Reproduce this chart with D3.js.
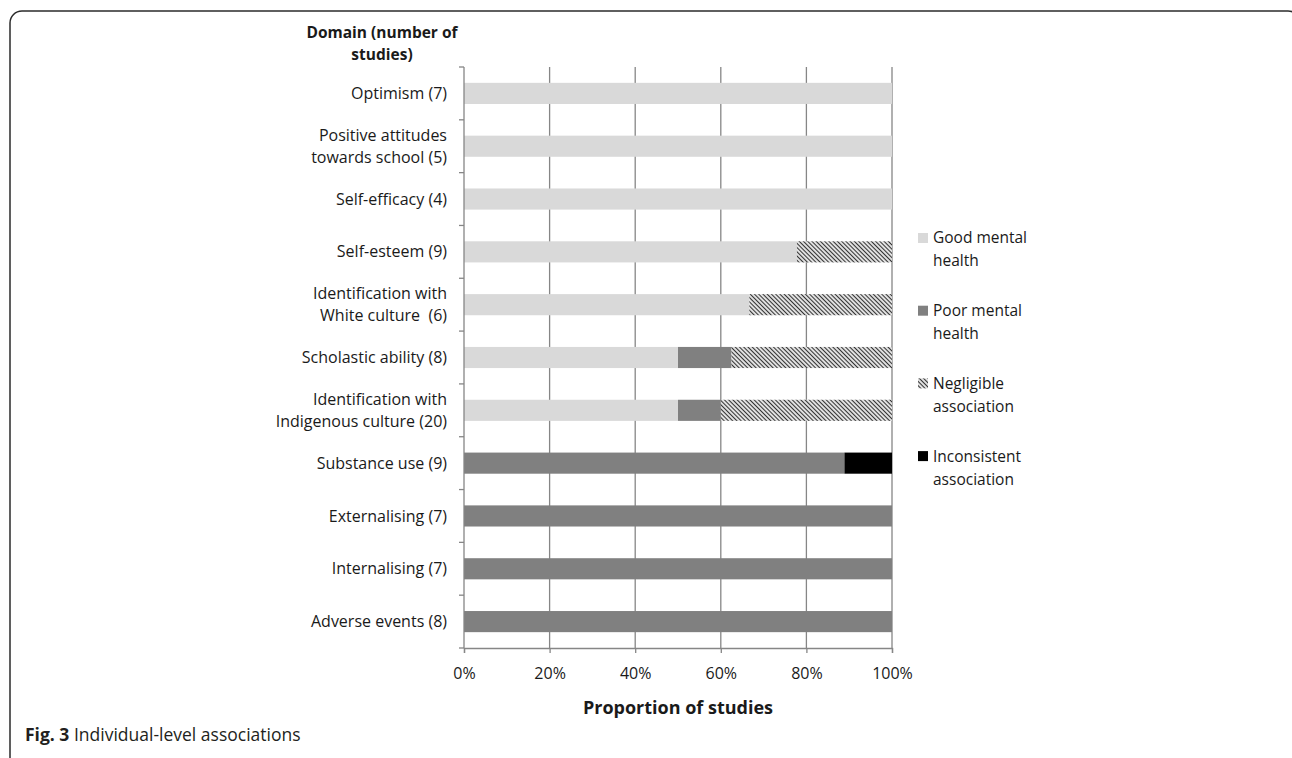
<!DOCTYPE html>
<html>
<head>
<meta charset="utf-8">
<script src="https://cdn.jsdelivr.net/npm/d3@7"></script>
<style>
  body { margin: 0; background: #fff; }
  svg { display: block; font-family: "Open Sans", sans-serif; }
</style>
</head>
<body>
<svg id="chart" width="1292" height="758"></svg>
<script>
// domain labels, "|" marks a line break
const categories = [
  'Optimism (7)',
  'Positive attitudes|towards school (5)',
  'Self-efficacy (4)',
  'Self-esteem (9)',
  'Identification with|White culture  (6)',
  'Scholastic ability (8)',
  'Identification with|Indigenous culture (20)',
  'Substance use (9)',
  'Externalising (7)',
  'Internalising (7)',
  'Adverse events (8)'
];
// number of studies per outcome
const goodHealth   = [7, 5, 4, 7, 4, 4, 10, 0, 0, 0, 0];
const poorHealth   = [0, 0, 0, 0, 0, 1, 2, 8, 7, 7, 8];
const negligible   = [0, 0, 0, 2, 2, 3, 8, 0, 0, 0, 0];
const inconsistent = [0, 0, 0, 0, 0, 0, 0, 1, 0, 0, 0];

const seriesKeys = ['good', 'poor', 'negl', 'incons'];
const legendLabels = [
  ['Good mental', 'health'],
  ['Poor mental', 'health'],
  ['Negligible', 'association'],
  ['Inconsistent', 'association']
];
const xTicks = [0, 0.2, 0.4, 0.6, 0.8, 1];

function drawChart() {
  const svg = d3.select('#chart');
  const plotLeft = 464;
  const plotRight = 892;
  const plotTop = 67;
  const plotBottom = 648;
  const gridColor = '#868686';
  const textColor = '#1a1a1a';

  const fills = {
    good: '#d9d9d9',
    poor: '#808080',
    negl: 'url(#hatch)',
    incons: '#000000'
  };

  // hatch pattern for "negligible association"
  const defs = svg.append('defs');
  const pat = defs.append('pattern')
    .attr('id', 'hatch')
    .attr('patternUnits', 'userSpaceOnUse')
    .attr('width', 3)
    .attr('height', 3)
    .attr('patternTransform', 'rotate(-45)');
  pat.append('rect').attr('width', 3).attr('height', 3).attr('fill', '#fff');
  pat.append('line')
    .attr('x1', 1.5).attr('y1', 0).attr('x2', 1.5).attr('y2', 3)
    .attr('stroke', '#333').attr('stroke-width', 1.3);

  // outer frame
  svg.append('rect')
    .attr('x', 10).attr('y', 11)
    .attr('width', 1290).attr('height', 820)
    .attr('rx', 12)
    .attr('fill', 'none')
    .attr('stroke', '#2b2b2b')
    .attr('stroke-width', 1.5);

  const table = categories.map((c, i) => ({
    cat: c,
    good: goodHealth[i],
    poor: poorHealth[i],
    negl: negligible[i],
    incons: inconsistent[i]
  }));

  const stacked = d3.stack()
    .keys(seriesKeys)
    .offset(d3.stackOffsetExpand)(table);

  const x = d3.scaleLinear().domain([0, 1]).range([plotLeft, plotRight]);
  const y = d3.scaleBand()
    .domain(categories)
    .range([plotTop, plotBottom])
    .paddingInner(0.6)
    .paddingOuter(0.3);

  // vertical gridlines
  svg.append('g')
    .selectAll('line')
    .data(xTicks.slice(1))
    .join('line')
    .attr('x1', d => x(d)).attr('x2', d => x(d))
    .attr('y1', plotTop).attr('y2', plotBottom)
    .attr('stroke', gridColor)
    .attr('stroke-width', 1.3);

  // bars
  svg.append('g')
    .selectAll('g')
    .data(stacked)
    .join('g')
    .attr('fill', d => fills[d.key])
    .selectAll('rect')
    .data(d => d)
    .join('rect')
    .attr('x', d => x(d[0]))
    .attr('width', d => Math.max(0, x(d[1]) - x(d[0])))
    .attr('y', d => y(d.data.cat))
    .attr('height', y.bandwidth());

  // left axis line + band boundary ticks
  const half = (y.step() - y.bandwidth()) / 2;
  const bounds = categories.map(c => y(c) - half).concat([y(categories[categories.length - 1]) + y.bandwidth() + half]);
  const yAxis = svg.append('g');
  yAxis.append('line')
    .attr('x1', plotLeft).attr('x2', plotLeft)
    .attr('y1', plotTop).attr('y2', plotBottom)
    .attr('stroke', gridColor).attr('stroke-width', 1.3);
  yAxis.selectAll('line.tick')
    .data(bounds)
    .join('line')
    .attr('class', 'tick')
    .attr('x1', plotLeft - 5).attr('x2', plotLeft)
    .attr('y1', d => d).attr('y2', d => d)
    .attr('stroke', gridColor).attr('stroke-width', 1.3);

  // category labels
  const labels = svg.append('g')
    .attr('font-size', 16)
    .attr('fill', textColor)
    .attr('text-anchor', 'end');
  categories.forEach(c => {
    const lines = c.split('|');
    const cy = y(c) + y.bandwidth() / 2;
    const lh = 22;
    const t = labels.append('text').attr('xml:space', 'preserve');
    lines.forEach((ln, j) => {
      t.append('tspan')
        .attr('x', 447)
        .attr('y', cy + (j - (lines.length - 1) / 2) * lh)
        .attr('dy', '0.35em')
        .text(ln);
    });
  });

  // header over labels
  svg.append('text')
    .attr('font-size', 15.5)
    .attr('font-weight', 'bold')
    .attr('fill', textColor)
    .attr('text-anchor', 'middle')
    .selectAll('tspan')
    .data(['Domain (number of', 'studies)'])
    .join('tspan')
    .attr('x', 382)
    .attr('y', (d, i) => 33 + i * 22)
    .attr('dy', '0.35em')
    .text(d => d);

  // bottom axis
  const xAxis = svg.append('g')
    .attr('transform', `translate(0,${plotBottom})`)
    .call(d3.axisBottom(x).tickValues(xTicks).tickFormat(d3.format('.0%')).tickSize(5).tickPadding(15));
  xAxis.select('.domain').attr('stroke', gridColor).attr('stroke-width', 1.3);
  xAxis.selectAll('.tick line').attr('stroke', gridColor).attr('stroke-width', 1.3);
  xAxis.selectAll('.tick text')
    .attr('font-size', 16)
    .attr('font-family', '"Open Sans", sans-serif')
    .attr('fill', textColor);

  svg.append('text')
    .attr('x', x(0.5))
    .attr('y', 708)
    .attr('dy', '0.35em')
    .attr('text-anchor', 'middle')
    .attr('font-size', 18)
    .attr('font-weight', 'bold')
    .attr('fill', textColor)
    .text('Proportion of studies');

  // legend
  const legend = svg.append('g')
    .attr('font-size', 15.5)
    .attr('fill', textColor);
  seriesKeys.forEach((k, i) => {
    const ly = 238 + i * 72.7;
    legend.append('rect')
      .attr('x', 918).attr('y', ly - 5)
      .attr('width', 10).attr('height', 10)
      .attr('fill', fills[k]);
    legendLabels[i].forEach((ln, j) => {
      legend.append('text')
        .attr('x', 933)
        .attr('y', ly + j * 23)
        .attr('dy', '0.35em')
        .text(ln);
    });
  });

  // caption
  const cap = svg.append('text')
    .attr('x', 25)
    .attr('y', 735)
    .attr('dy', '0.35em')
    .attr('font-size', 17.5)
    .attr('fill', '#231f20');
  cap.append('tspan').attr('font-weight', 'bold').text('Fig. 3');
  cap.append('tspan').text(' Individual-level associations');
}

window.addEventListener('load', drawChart);
</script>
</body>
</html>
